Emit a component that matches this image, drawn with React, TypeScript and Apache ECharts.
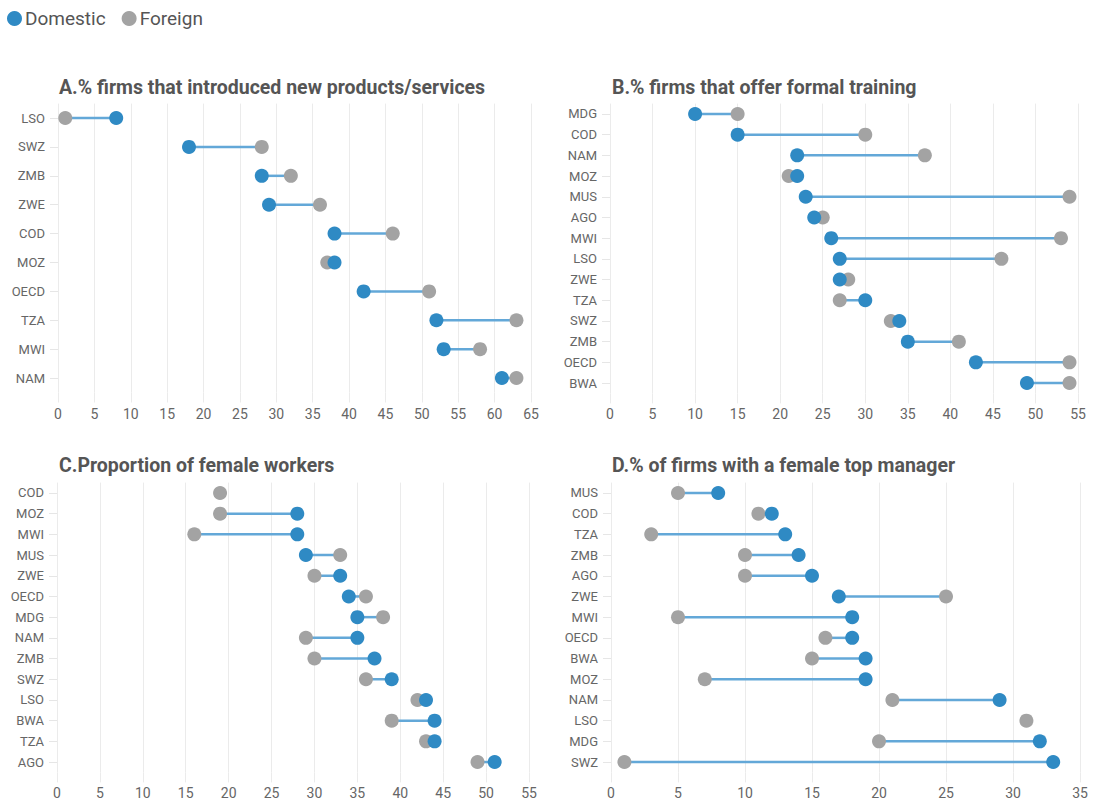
import React, { useEffect, useRef } from "react";
import * as echarts from "echarts";

const titles = [
  "A.% firms that introduced new products/services",
  "B.% firms that offer formal training",
  "C.Proportion of female workers",
  "D.% of firms with a female top manager",
];

const catsA = ["LSO", "SWZ", "ZMB", "ZWE", "COD", "MOZ", "OECD", "TZA", "MWI", "NAM"];
const domA = [8, 18, 28, 29, 38, 38, 42, 52, 53, 61];
const forA = [1, 28, 32, 36, 46, 37, 51, 63, 58, 63];

const catsB = ["MDG", "COD", "NAM", "MOZ", "MUS", "AGO", "MWI", "LSO", "ZWE", "TZA", "SWZ", "ZMB", "OECD", "BWA"];
const domB = [10, 15, 22, 22, 23, 24, 26, 27, 27, 30, 34, 35, 43, 49];
const forB = [15, 30, 37, 21, 54, 25, 53, 46, 28, 27, 33, 41, 54, 54];

const catsC = ["COD", "MOZ", "MWI", "MUS", "ZWE", "OECD", "MDG", "NAM", "ZMB", "SWZ", "LSO", "BWA", "TZA", "AGO"];
const domC = [null, 28, 28, 29, 33, 34, 35, 35, 37, 39, 43, 44, 44, 51];
const forC = [19, 19, 16, 33, 30, 36, 38, 29, 30, 36, 42, 39, 43, 49];

const catsD = ["MUS", "COD", "TZA", "ZMB", "AGO", "ZWE", "MWI", "OECD", "BWA", "MOZ", "NAM", "LSO", "MDG", "SWZ"];
const domD = [8, 12, 13, 14, 15, 17, 18, 18, 19, 19, 29, null, 32, 33];
const forD = [5, 11, 3, 10, 10, 25, 5, 16, 15, 7, 21, 31, 20, 1];

const axisMax = [65, 55, 55, 35];

const BLUE = "#2f8ac4";
const GRAY = "#a3a3a3";
const LINE = "#63a8d8";

export default function App() {
  const ref = useRef<HTMLDivElement>(null);
  useEffect(() => {
    if (!ref.current) return;
    const chart = echarts.init(ref.current, undefined, { renderer: "svg" });
    const panels = [
      { cats: catsA, dom: domA, fr: forA },
      { cats: catsB, dom: domB, fr: forB },
      { cats: catsC, dom: domC, fr: forC },
      { cats: catsD, dom: domD, fr: forD },
    ];
    const grids = [
      { left: 58, right: 563, top: 103.6, bottom: 416.5 },
      { left: 610, right: 16, top: 103.6, bottom: 415.6 },
      { left: 57, right: 565, top: 482.6, bottom: 36.6 },
      { left: 611, right: 14, top: 482.6, bottom: 36.6 },
    ];
    const titlePos = [
      { left: 59, top: 77 },
      { left: 612, top: 77 },
      { left: 59, top: 455 },
      { left: 612, top: 455 },
    ];
    const xAxis: any[] = [];
    const yAxis: any[] = [];
    const series: any[] = [];
    panels.forEach((p, i) => {
      xAxis.push({
        type: "value",
        gridIndex: i,
        min: 0,
        max: axisMax[i],
        interval: 5,
        axisLine: { show: false },
        axisTick: { show: true, length: 10, lineStyle: { color: "#ebebeb" } },
        splitLine: { show: true, lineStyle: { color: "#ebebeb", width: 1 } },
        axisLabel: { color: "#666", fontSize: 14, fontFamily: "Roboto", margin: 14 },
      });
      yAxis.push({
        type: "category",
        gridIndex: i,
        data: p.cats,
        inverse: true,
        axisLine: { show: false },
        axisTick: { show: true, alignWithLabel: true, length: 8, lineStyle: { color: "#e6e6e6" } },
        splitLine: { show: false },
        axisLabel: { color: "#666", fontSize: 13, fontFamily: "Roboto", margin: 13 },
      });
      const segData = p.cats.map((c, k) => [p.dom[k], p.fr[k], k]);
      series.push({
        type: "custom",
        xAxisIndex: i,
        yAxisIndex: i,
        silent: true,
        encode: { x: [0, 1], y: 2 },
        data: segData,
        renderItem: (params: any, api: any) => {
          const d = api.value(0);
          const f = api.value(1);
          const k = api.value(2);
          if (d == null || f == null || isNaN(d) || isNaN(f)) return null;
          const a = api.coord([d, k]);
          const b = api.coord([f, k]);
          return {
            type: "line",
            shape: { x1: a[0], y1: a[1], x2: b[0], y2: b[1] },
            style: { stroke: LINE, lineWidth: 2.5 },
          };
        },
        z: 1,
      });
      series.push({
        name: "Foreign",
        type: "scatter",
        xAxisIndex: i,
        yAxisIndex: i,
        symbolSize: 14,
        itemStyle: { color: GRAY, opacity: 1 },
        data: p.cats.map((c, k) => (p.fr[k] == null ? null : [p.fr[k], c])).filter((v) => v),
        z: 2,
      });
      series.push({
        name: "Domestic",
        type: "scatter",
        xAxisIndex: i,
        yAxisIndex: i,
        symbolSize: 14,
        itemStyle: { color: BLUE, opacity: 1 },
        data: p.cats.map((c, k) => (p.dom[k] == null ? null : [p.dom[k], c])).filter((v) => v),
        z: 3,
      });
    });
    chart.setOption({
      animation: false,
      backgroundColor: "#ffffff",
      title: titles.map((t, i) => ({
        text: t,
        left: titlePos[i].left,
        top: titlePos[i].top,
        padding: 0,
        textStyle: { fontFamily: "Roboto", fontWeight: "bold", fontSize: 19.5, color: "#555" },
      })),
      legend: {
        left: 2,
        top: 4,
        icon: "circle",
        itemWidth: 15,
        itemHeight: 15,
        itemGap: 16,
        data: ["Domestic", "Foreign"],
        textStyle: { fontFamily: "Roboto", fontSize: 19, color: "#555", padding: [0, 0, 0, -2] },
      },
      grid: grids,
      xAxis,
      yAxis,
      series,
    });
    return () => chart.dispose();
  }, []);
  return <div ref={ref} style={{ width: 1094, height: 809, position: "absolute", left: 0, top: 0 }} />;
}
